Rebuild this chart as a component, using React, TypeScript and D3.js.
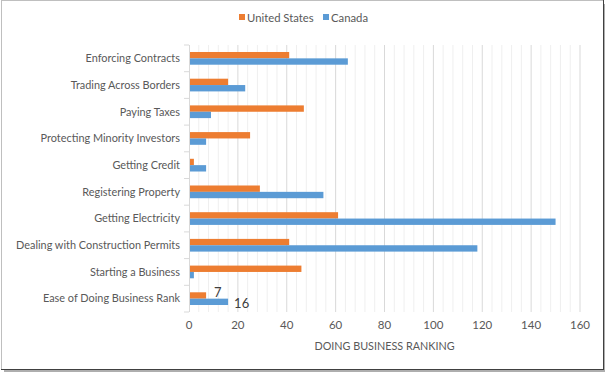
import * as d3 from "d3";

const categories = [
  "Enforcing Contracts",
  "Trading Across Borders",
  "Paying Taxes",
  "Protecting Minority Investors",
  "Getting Credit",
  "Registering Property",
  "Getting Electricity",
  "Dealing with Construction Permits",
  "Starting a Business",
  "Ease of Doing Business Rank",
];
const seriesNames = ["United States", "Canada"];
const unitedStates = [41, 16, 47, 25, 2, 29, 61, 41, 46, 7];
const canada = [65, 23, 9, 7, 7, 55, 150, 118, 2, 16];
const xTicks = [0, 20, 40, 60, 80, 100, 120, 140, 160];
const labelledCategory = "Ease of Doing Business Rank";

const colors = ["#ED7D31", "#5B9BD5"];
const font = "Lato, 'Open Sans', sans-serif";

export default function App() {
  const width = 608;
  const height = 374;
  const margin = { top: 45, right: 28, bottom: 62, left: 189 };

  const x = d3.scaleLinear().domain([0, 160]).range([margin.left, width - margin.right]);
  const y = d3
    .scaleBand<string>()
    .domain(categories)
    .range([margin.top, height - margin.bottom]);
  const inner = d3
    .scaleBand<string>()
    .domain(seriesNames)
    .range([0, y.bandwidth()])
    .paddingOuter(1.1);

  const minorTicks = d3.range(0, 161, 4).filter((v) => v % 20 !== 0);
  const values = [unitedStates, canada];
  const labelIdx = categories.indexOf(labelledCategory);

  return (
    <svg
      width={width}
      height={height}
      style={{ position: "absolute", left: 0, top: 0, fontFamily: font }}
    >
      <rect x={0} y={0} width={width} height={height} fill="#fff" />
      {/* drop shadow + frame */}
      <rect x={4} y={4} width={601} height={368} fill="#6b6b6b" opacity={0.55} />
      <rect x={1.5} y={0.5} width={602} height={369} fill="#fff" stroke="#bfbfbf" />
      <line x1={603.5} x2={603.5} y1={0} y2={370} stroke="#404040" />
      <line x1={1} x2={604} y1={369.5} y2={369.5} stroke="#404040" />

      {/* legend */}
      {seriesNames.map((name, i) => {
        const lx = [239, 323][i];
        return (
          <g key={name}>
            <rect x={lx} y={14} width={6} height={6} fill={colors[i]} />
            <text x={lx + 8} y={21.5} fontSize={11.3} fill="#595959">
              {name}
            </text>
          </g>
        );
      })}

      {/* gridlines */}
      {minorTicks.map((t) => (
        <line
          key={"m" + t}
          x1={x(t)}
          x2={x(t)}
          y1={margin.top}
          y2={height - margin.bottom}
          stroke="#efefef"
        />
      ))}
      {xTicks.slice(1).map((t) => (
        <line
          key={"g" + t}
          x1={x(t)}
          x2={x(t)}
          y1={margin.top}
          y2={height - margin.bottom}
          stroke="#d9d9d9"
        />
      ))}

      {/* bars */}
      {categories.map((c, ci) =>
        seriesNames.map((s, si) => (
          <rect
            key={c + s}
            x={x(0)}
            y={(y(c) ?? 0) + (inner(s) ?? 0)}
            width={x(values[si][ci]) - x(0)}
            height={inner.bandwidth()}
            fill={colors[si]}
          />
        ))
      )}

      {/* data labels */}
      {seriesNames.map((s, si) => (
        <text
          key={"lbl" + s}
          x={x(values[si][labelIdx]) + (si === 0 ? 8 : 6)}
          y={(y(labelledCategory) ?? 0) + (inner(s) ?? 0) + inner.bandwidth() / 2 + (si === 0 ? 2 : 6)}
          fontSize={13}
          fill="#404040"
        >
          {values[si][labelIdx]}
        </text>
      ))}

      {/* category axis */}
      <line
        x1={x(0) + 0.5}
        x2={x(0) + 0.5}
        y1={margin.top}
        y2={height - margin.bottom}
        stroke="#d9d9d9"
      />
      {d3.range(categories.length + 1).map((i) => {
        const ty = margin.top + i * y.step();
        return (
          <line key={"t" + i} x1={x(0) - 5} x2={x(0)} y1={ty} y2={ty} stroke="#d9d9d9" />
        );
      })}
      {categories.map((c) => (
        <text
          key={"c" + c}
          x={x(0) - 9}
          y={(y(c) ?? 0) + y.bandwidth() / 2}
          dy="0.35em"
          textAnchor="end"
          fontSize={10.9}
          fill="#595959"
        >
          {c}
        </text>
      ))}

      {/* value axis */}
      {xTicks.map((t) => (
        <text
          key={"x" + t}
          x={x(t)}
          y={height - margin.bottom + 17}
          textAnchor="middle"
          fontSize={11.5}
          fill="#595959"
        >
          {t}
        </text>
      ))}
      <text
        x={(x(0) + x(160)) / 2}
        y={350}
        textAnchor="middle"
        fontSize={10.8}
        fill="#595959"
      >
        DOING BUSINESS RANKING
      </text>
    </svg>
  );
}
